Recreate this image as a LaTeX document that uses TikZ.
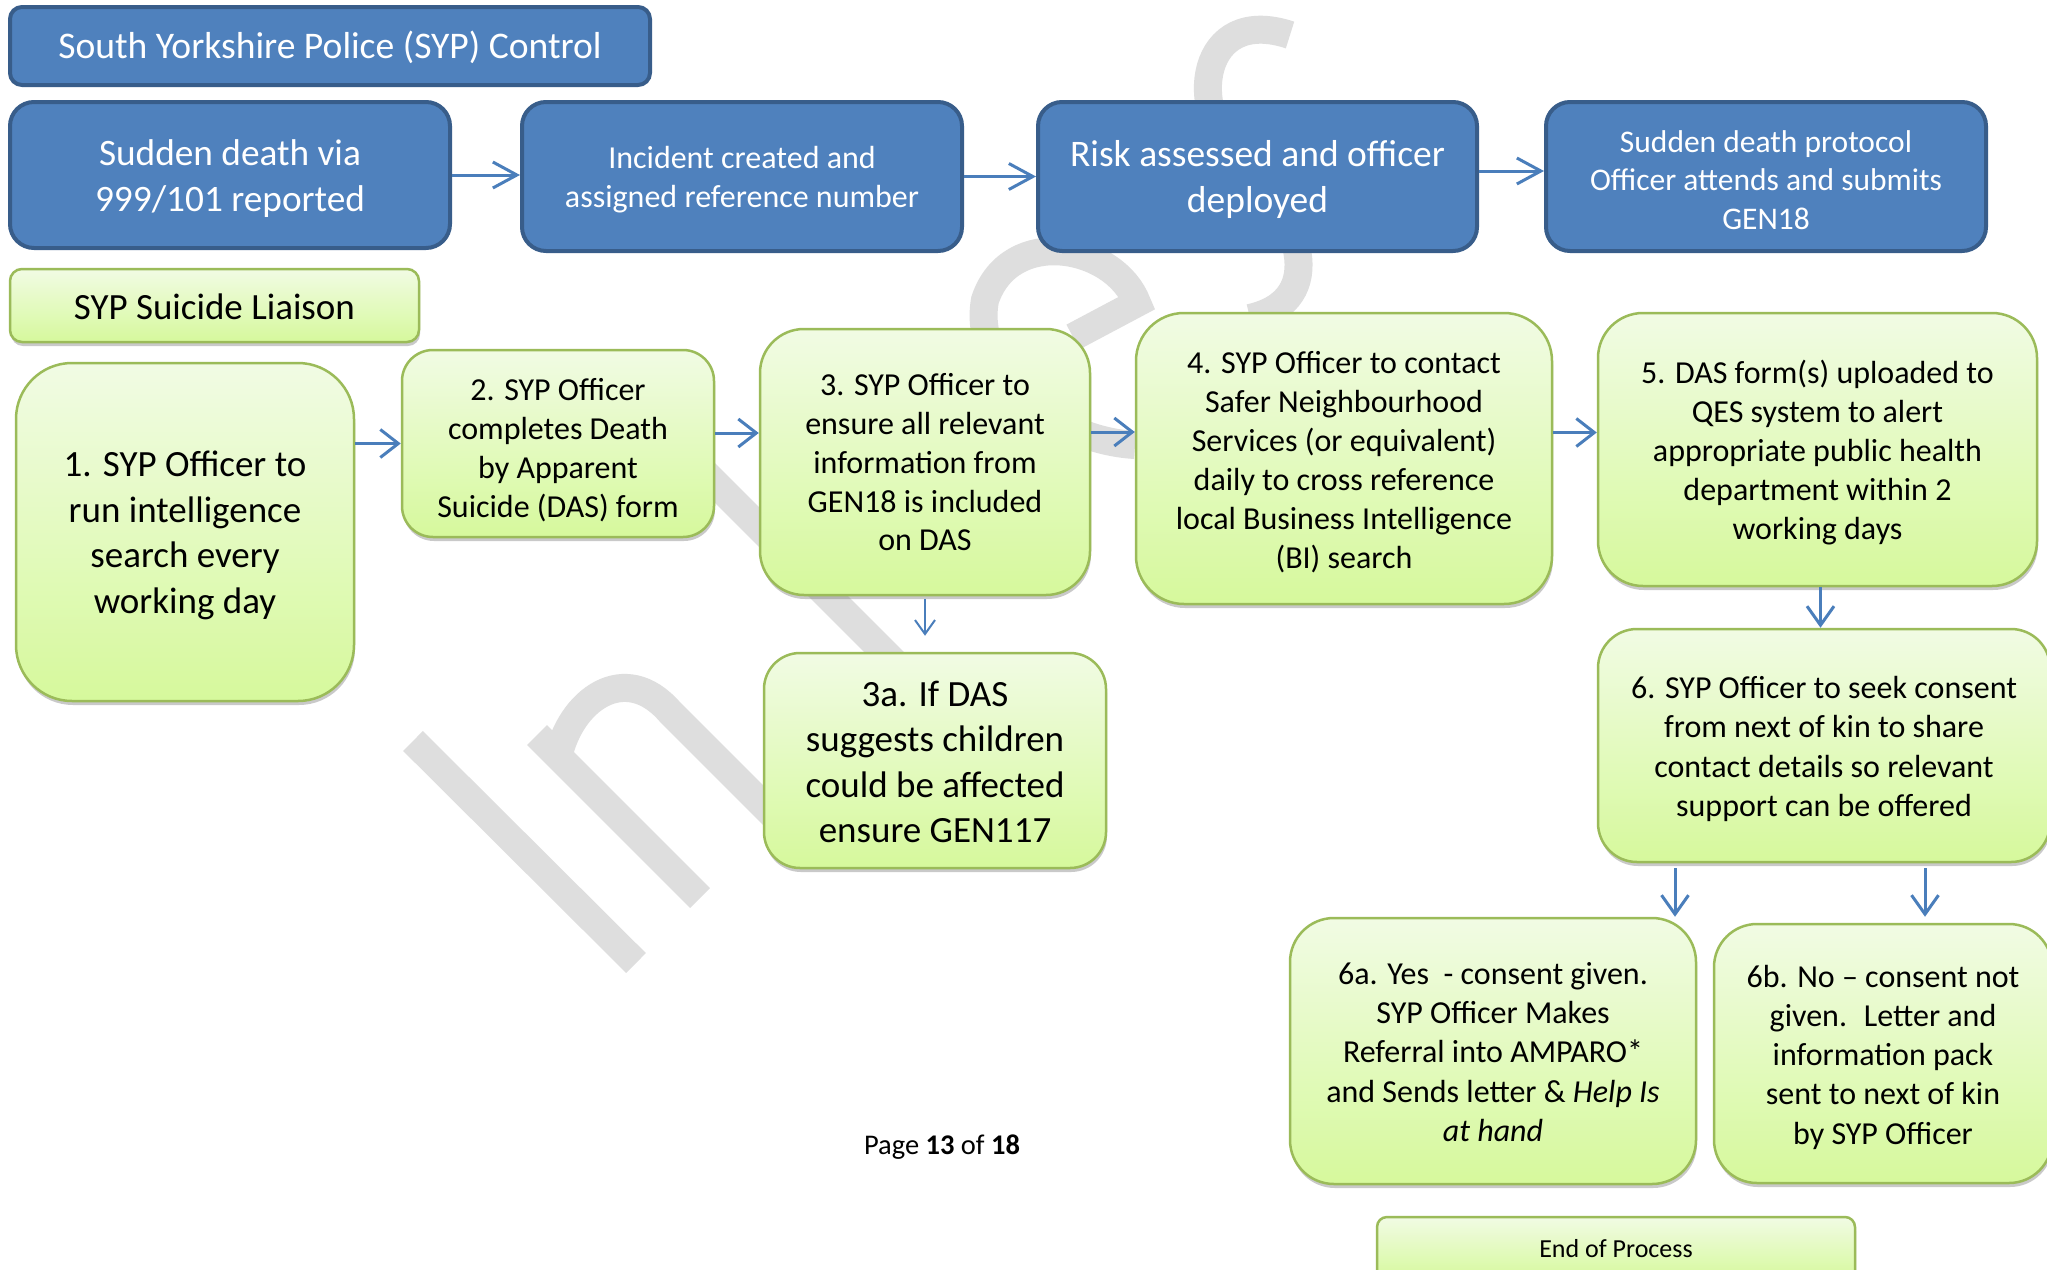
\documentclass[tikz,border=0pt]{standalone}
\usepackage{fontspec}
\setmainfont{Carlito}
\usetikzlibrary{arrows.meta,shadows}
\definecolor{bluefill}{RGB}{79,129,189}
\definecolor{bluedraw}{RGB}{56,93,138}
\definecolor{arrowblue}{RGB}{74,126,187}
\definecolor{greenline}{RGB}{155,187,89}
\definecolor{greentop}{RGB}{241,251,228}
\definecolor{greenbot}{RGB}{214,249,156}
\definecolor{wmgray}{RGB}{222,222,222}
\newcommand\myfs[2]{\fontsize{#1}{#2}\selectfont}
\newcommand\tx[2][4pt]{\raisebox{-#1}[\height][\depth]{\begin{tabular}{@{}c@{}}#2\end{tabular}}}
\begin{document}
\begin{tikzpicture}[x=1pt,y=-1pt,
  bluebox/.style={draw=bluedraw, line width=4pt, fill=bluefill, text=white, inner sep=0pt},
  greenbox/.style={draw=greenline, line width=2.5pt, top color=greentop, bottom color=greenbot, inner sep=0pt,
     drop shadow={shadow xshift=1pt, shadow yshift=-4pt, opacity=0.35, fill=black!60}},
  wm/.style={draw=wmgray, line width=28pt},
  hzarr/.style={draw=arrowblue, line width=3pt, -{Straight Barb[length=24pt,width=26pt]}},
  grarr/.style={draw=arrowblue, line width=3pt, -{Straight Barb[length=18pt,width=28pt]}},
  smarr/.style={draw=arrowblue, line width=2pt, -{Straight Barb[length=14pt,width=20pt]}},
  vtarr/.style={draw=arrowblue, line width=3pt, -{Straight Barb[length=19pt,width=27pt]}}
]
\useasboundingbox[fill=white] (0,0) rectangle (2047,1269);

% watermark
\draw[wm] (413,741) -- (636,963);
\draw[wm] (537,735) -- (700,898);
\draw[wm] (558,758) .. controls (570,700) and (625,660) .. (670,712) -- (790,832);
\draw[wm] (680,448) -- (905,673);
\draw[wm] (1073,337) -- (1137,303) .. controls (1115,245) and (1010,225) .. (985,300) .. controls (972,370) and (1050,440) .. (1135,445);
\draw[wm] (1290,35) .. controls (1200,5) and (1185,110) .. (1240,160) .. controls (1300,215) and (1330,300) .. (1250,318);

% blue row
\node[bluebox, rounded corners=12pt, minimum width=640pt, minimum height=78pt, font=\myfs{37.6}{45}] (B0) at (330,46) {\tx[3pt]{South Yorkshire Police (SYP) Control}};
\node[bluebox, rounded corners=24pt, minimum width=440pt, minimum height=146pt, font=\myfs{37.3}{45.7}] (B1) at (230,175) {\tx[4.5pt]{Sudden death via\\999/101 reported}};
\node[bluebox, rounded corners=24pt, minimum width=440pt, minimum height=149pt, font=\myfs{32}{39}] (B2) at (742,176.5) {\tx{Incident created and\\assigned reference number}};
\node[bluebox, rounded corners=24pt, minimum width=439pt, minimum height=149pt, font=\myfs{37.5}{45.7}] (B3) at (1257.5,176.5) {\tx{Risk assessed and officer\\deployed}};
\node[bluebox, rounded corners=24pt, minimum width=440pt, minimum height=149pt, font=\myfs{31.5}{38.5}] (B4) at (1766,176.5) {\tx[6.5pt]{Sudden death protocol\\Officer attends and submits\\GEN18}};

% green boxes
\node[greenbox, rounded corners=12pt, minimum width=409pt, minimum height=73pt, font=\myfs{37}{45}] (G0) at (214.5,305.5) {\tx[5pt]{SYP Suicide Liaison}};
\node[greenbox, rounded corners=56pt, minimum width=338pt, minimum height=338pt, font=\myfs{37}{45.7}] (G1) at (185,532) {\tx{1. SYP Officer to\\run intelligence\\search every\\working day}};
\node[greenbox, rounded corners=31pt, minimum width=312pt, minimum height=187pt, font=\myfs{32}{39}] (G2) at (558,443.5) {\tx[8pt]{2. SYP Officer\\completes Death\\by Apparent\\Suicide (DAS) form}};
\node[greenbox, rounded corners=44pt, minimum width=330pt, minimum height=266pt, font=\myfs{32}{38.8}] (G3) at (925,462) {\tx[3.5pt]{3. SYP Officer to\\ensure all relevant\\information from\\GEN18 is included\\on DAS}};
\node[greenbox, rounded corners=36pt, minimum width=342pt, minimum height=215pt, font=\myfs{37}{45.3}] (G3a) at (935,760.5) {\tx[5pt]{3a. If DAS\\suggests children\\could be affected\\ensure GEN117}};
\node[greenbox, rounded corners=48pt, minimum width=416pt, minimum height=291pt, font=\myfs{32}{39}] (G4) at (1344,458.5) {\tx[4.5pt]{4. SYP Officer to contact\\Safer Neighbourhood\\Services (or equivalent)\\daily to cross reference\\local Business Intelligence\\(BI) search}};
\node[greenbox, rounded corners=45pt, minimum width=439pt, minimum height=273pt, font=\myfs{32}{39}] (G5) at (1817.5,449.5) {\tx{5. DAS form(s) uploaded to\\QES system to alert\\appropriate public health\\department within 2\\working days}};
\node[greenbox, rounded corners=39pt, minimum width=452pt, minimum height=233pt, font=\myfs{32}{39.3}] (G6) at (1824,745.5) {\tx{6. SYP Officer to seek consent\\from next of kin to share\\contact details so relevant\\support can be offered}};
\node[greenbox, rounded corners=44pt, minimum width=406pt, minimum height=266pt, font=\myfs{32}{39.3}] (G6a) at (1493,1051) {\tx[4pt]{6a. Yes~ - consent given.\\SYP Officer Makes\\Referral into AMPARO*\\and Sends letter \& \textit{Help Is}\\\textit{at hand}}};
\node[greenbox, rounded corners=43pt, minimum width=338pt, minimum height=259pt, font=\myfs{32}{39.3}] (G6b) at (1883,1053.5) {\tx[4.3pt]{6b. No -- consent not\\given.~ Letter and\\information pack\\sent to next of kin\\by SYP Officer}};
\node[greenbox, rounded corners=10pt, minimum width=478pt, minimum height=63pt, font=\myfs{26}{31}] (GE) at (1616,1248.5) {\tx[2.6pt]{End of Process}};

\node[font=\myfs{28.5}{34}, inner sep=0pt] (pg) at (942,1147.5) {Page \textbf{13} of \textbf{18}};

% connectors
\draw[hzarr] (B1.east) -- (B1.east -| B2.west);
\draw[hzarr] (B2.east) -- (B2.east -| B3.west);
\draw[hzarr] ([yshift=5.5pt]B3.east) -- ([yshift=5.5pt]B3.east -| B4.west);
\draw[grarr] (G2.west -| G1.east) -- (G2.west);
\draw[grarr] ([yshift=10.5pt]G2.east) -- ([yshift=10.5pt]G2.east -| G3.west);
\draw[grarr] ([yshift=30pt]G3.east) -- ([yshift=30pt]G3.east -| G4.west);
\draw[grarr] ([yshift=26pt]G4.east) -- ([yshift=26pt]G4.east -| G5.west);
\draw[smarr] ([yshift=-3pt]G3.south) -- ([yshift=16pt]G3.south |- G3a.north);
\draw[vtarr] ([xshift=3pt]G5.south) -- ([xshift=3pt]G5.south |- G6.north);
\draw[vtarr] ([xshift=-149pt,yshift=-5pt]G6.south) -- ([xshift=-149pt]G6.south |- G6a.north);
\draw[vtarr] ([xshift=101pt,yshift=-5pt]G6.south) -- ([xshift=101pt]G6.south |- G6a.north);
\end{tikzpicture}
\end{document}
